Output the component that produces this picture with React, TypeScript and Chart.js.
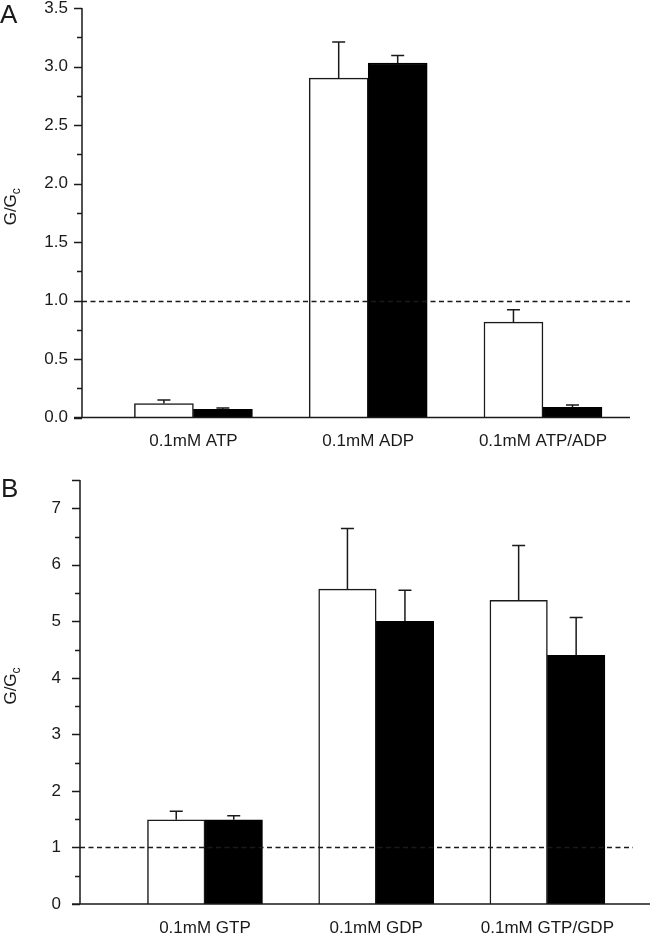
import React, { useEffect, useRef } from 'react';
import { Chart, registerables } from 'chart.js';

Chart.register(...registerables);

// ---------- data ----------
const categoriesA = ['0.1mM ATP', '0.1mM ADP', '0.1mM ATP/ADP'];
const whiteA = [0.12, 2.9, 0.815];
const whiteErrA = [0.03, 0.31, 0.105];
const blackA = [0.07, 3.03, 0.087];
const blackErrA = [0.012, 0.065, 0.02];
const yTicksA = [0, 0.5, 1, 1.5, 2, 2.5, 3, 3.5];

const categoriesB = ['0.1mM GTP', '0.1mM GDP', '0.1mM GTP/GDP'];
const whiteB = [1.49, 5.57, 5.37];
const whiteErrB = [0.15, 1.07, 0.97];
const blackB = [1.49, 5.0, 4.4];
const blackErrB = [0.07, 0.55, 0.67];
const yTicksB = [0, 1, 2, 3, 4, 5, 6, 7];

const referenceLevel = 1;

const FONT = '"Liberation Sans", Arial, Helvetica, sans-serif';
const INK = '#1a1a1a';

type Panel = {
  letter: string;
  categories: string[];
  white: number[];
  whiteErr: number[];
  black: number[];
  blackErr: number[];
  yTicks: number[];
  yMax: number;
  minorStep: number;
  majorStep: number;
  decimals: number;
  xMin: number;
  xMax: number;
  barThickness: number;
  canvasTop: number;
  canvasHeight: number;
  padTop: number;
  padRight: number;
  yAxisWidth: number;
  xAxisHeight: number;
  yLabelPad: number;
  xAxisExtend: number;
  letterX: number;
  letterBaseline: number;
};

const panelA: Panel = {
  letter: 'A',
  categories: categoriesA,
  white: whiteA,
  whiteErr: whiteErrA,
  black: blackA,
  blackErr: blackErrA,
  yTicks: yTicksA,
  yMax: 3.5,
  minorStep: 0.25,
  majorStep: 0.5,
  decimals: 1,
  xMin: -0.6375,
  xMax: 2.498,
  barThickness: 59,
  canvasTop: 0,
  canvasHeight: 462,
  padTop: 8,
  padRight: 20,
  yAxisWidth: 82,
  xAxisHeight: 44.5,
  yLabelPad: 14,
  xAxisExtend: 0,
  letterX: 0,
  letterBaseline: 23,
};

const panelB: Panel = {
  letter: 'B',
  categories: categoriesB,
  white: whiteB,
  whiteErr: whiteErrB,
  black: blackB,
  blackErr: blackErrB,
  yTicks: yTicksB,
  yMax: 7.5,
  minorStep: 0.5,
  majorStep: 1,
  decimals: 0,
  xMin: -0.73,
  xMax: 2.5,
  barThickness: 57.5,
  canvasTop: 468,
  canvasHeight: 468,
  padTop: 12,
  padRight: 17,
  yAxisWidth: 80,
  xAxisHeight: 32,
  yLabelPad: 19,
  xAxisExtend: 17,
  letterX: 1,
  letterBaseline: 29,
};

function decorPlugin(p: Panel) {
  return {
    id: 'decor' + p.letter,
    afterDatasetsDraw(chart: any) {
      const { ctx, chartArea: ca } = chart;
      const y = chart.scales.y;
      ctx.save();
      // reference dashed line
      ctx.strokeStyle = INK;
      ctx.lineWidth = 1.4;
      ctx.setLineDash([5, 3.5]);
      const yr = Math.round(y.getPixelForValue(referenceLevel)) + 0.5;
      ctx.beginPath();
      ctx.moveTo(ca.left, yr);
      ctx.lineTo(ca.right, yr);
      ctx.stroke();
      ctx.setLineDash([]);
      // error bars (upper only)
      ctx.lineWidth = 1.5;
      chart.data.datasets.forEach((ds: any, d: number) => {
        const meta = chart.getDatasetMeta(d);
        meta.data.forEach((el: any, i: number) => {
          const v = ds.data[i].y;
          const e = ds.errors[i];
          const yt = y.getPixelForValue(v + e);
          ctx.beginPath();
          ctx.moveTo(el.x, el.y);
          ctx.lineTo(el.x, yt);
          ctx.moveTo(el.x - 6.5, yt);
          ctx.lineTo(el.x + 6.5, yt);
          ctx.stroke();
        });
      });
      // axes lines
      ctx.lineWidth = 1.5;
      ctx.beginPath();
      ctx.moveTo(ca.left, ca.top);
      ctx.lineTo(ca.left, ca.bottom);
      ctx.moveTo(ca.left - 8, ca.bottom);
      ctx.lineTo(ca.right + p.xAxisExtend, ca.bottom);
      // tick marks
      const n = Math.round(p.yMax / p.minorStep);
      for (let k = 0; k <= n; k++) {
        const v = k * p.minorStep;
        const isMajor = Math.abs(v / p.majorStep - Math.round(v / p.majorStep)) < 1e-6 || k === n;
        const len = isMajor ? 8 : 5;
        const py = Math.round(y.getPixelForValue(v)) + 0.5;
        ctx.moveTo(ca.left - len, py);
        ctx.lineTo(ca.left, py);
      }
      ctx.stroke();
      ctx.restore();
    },
    afterDraw(chart: any) {
      const { ctx, chartArea: ca } = chart;
      ctx.save();
      ctx.fillStyle = INK;
      // panel letter
      ctx.font = `26px ${FONT}`;
      ctx.textAlign = 'left';
      ctx.textBaseline = 'alphabetic';
      ctx.fillText(p.letter, p.letterX, p.letterBaseline);
      // y axis title G/Gc
      const main = 'G/G';
      ctx.font = `17px ${FONT}`;
      const wMain = ctx.measureText(main).width;
      ctx.font = `12px ${FONT}`;
      const wSub = ctx.measureText('c').width;
      const total = wMain + wSub;
      const cy = (ca.top + ca.bottom) / 2 - 6;
      ctx.translate(16, cy + total / 2);
      ctx.rotate(-Math.PI / 2);
      ctx.font = `17px ${FONT}`;
      ctx.fillText(main, 0, 0);
      ctx.font = `12px ${FONT}`;
      ctx.fillText('c', wMain, 4);
      ctx.restore();
    },
  };
}

function PanelChart({ p }: { p: Panel }) {
  const ref = useRef<HTMLCanvasElement | null>(null);
  useEffect(() => {
    if (!ref.current) return;
    const chart = new Chart(ref.current, {
      type: 'bar',
      data: {
        datasets: [
          {
            label: 'white',
            data: p.white.map((v, i) => ({ x: i, y: v })),
            errors: p.whiteErr,
            backgroundColor: '#ffffff',
            borderColor: INK,
            borderWidth: 1.5,
            barThickness: p.barThickness,
          } as any,
          {
            label: 'black',
            data: p.black.map((v, i) => ({ x: i, y: v })),
            errors: p.blackErr,
            backgroundColor: '#000000',
            borderColor: '#000000',
            borderWidth: 1.5,
            barThickness: p.barThickness,
          } as any,
        ],
      },
      options: {
        responsive: false,
        animation: false,
        events: [],
        layout: { padding: { top: p.padTop, right: p.padRight, left: 0, bottom: 0 } },
        plugins: { legend: { display: false }, tooltip: { enabled: false } },
        scales: {
          x: {
            type: 'linear',
            min: p.xMin,
            max: p.xMax,
            offset: false,
            bounds: 'data',
            grid: { display: false, drawTicks: false, offset: false },
            border: { display: false },
            afterBuildTicks: (scale: any) => {
              scale.ticks = p.categories.map((_, i) => ({ value: i }));
            },
            afterFit: (scale: any) => {
              scale.height = p.xAxisHeight;
              scale.paddingLeft = 0;
              scale.paddingRight = 0;
            },
            ticks: {
              autoSkip: false,
              maxRotation: 0,
              padding: 14,
              color: INK,
              font: { family: FONT, size: 17 },
              callback: (v: any) => p.categories[Math.round(Number(v))] ?? '',
            },
          },
          y: {
            type: 'linear',
            min: 0,
            max: p.yMax,
            grid: { display: false, drawTicks: false },
            border: { display: false },
            afterBuildTicks: (scale: any) => {
              scale.ticks = p.yTicks.map((v) => ({ value: v }));
            },
            afterFit: (scale: any) => {
              scale.width = p.yAxisWidth;
              scale.paddingTop = 0;
              scale.paddingBottom = 0;
            },
            ticks: {
              padding: p.yLabelPad,
              color: INK,
              font: { family: FONT, size: 17, lineHeight: 1 },
              callback: (v: any) => Number(v).toFixed(p.decimals),
            },
          },
        },
      } as any,
      plugins: [decorPlugin(p)],
    });
    return () => chart.destroy();
  }, [p]);
  return (
    <canvas
      ref={ref}
      width={650}
      height={p.canvasHeight}
      style={{ position: 'absolute', left: 0, top: p.canvasTop, width: 650, height: p.canvasHeight }}
    />
  );
}

export default function App() {
  return (
    <div style={{ position: 'absolute', left: 0, top: 0, width: 650, height: 936, background: '#fff', overflow: 'hidden' }}>
      <PanelChart p={panelA} />
      <PanelChart p={panelB} />
    </div>
  );
}
